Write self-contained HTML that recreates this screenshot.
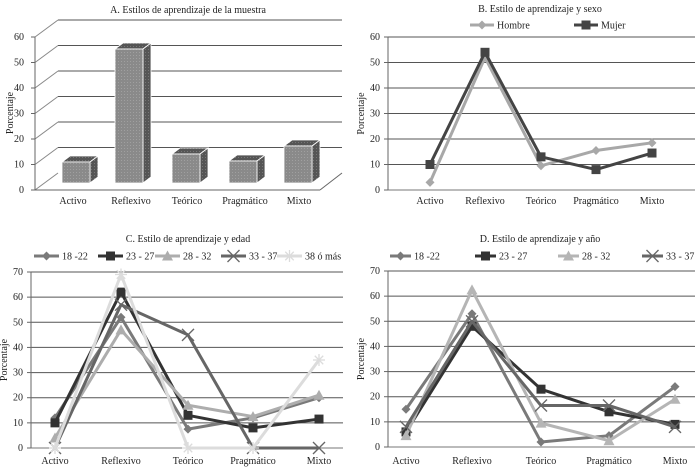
<!DOCTYPE html>
<html><head><meta charset="utf-8"><style>
html,body{margin:0;padding:0;background:#fff}
svg{display:block;font-family:"Liberation Serif",serif;font-size:10px;fill:#222}
</style></head><body>
<svg id="s" width="697" height="467" viewBox="0 0 697 467" xmlns="http://www.w3.org/2000/svg">
<defs>
<pattern id="dots" width="3" height="3" patternUnits="userSpaceOnUse"><rect width="3" height="3" fill="#8a8a8a"/><rect x="1" y="1" width="1" height="1" fill="#a0a0a0"/></pattern>
<pattern id="dots2" width="3" height="3" patternUnits="userSpaceOnUse"><rect width="3" height="3" fill="#555"/><rect x="1" y="1" width="1" height="1" fill="#777"/></pattern>
</defs>
<text x="188" y="13" text-anchor="middle">A. Estilos de aprendizaje de la muestra</text>
<g id="A"></g>
<text x="540" y="12" text-anchor="middle">B. Estilo de aprendizaje y sexo</text>
<g id="B"></g>
<text x="188" y="242" text-anchor="middle">C. Estilo de aprendizaje y edad</text>
<g id="C"></g>
<text x="540" y="242" text-anchor="middle">D. Estilo de aprendizaje y año</text>
<g id="D"></g>
</svg>
<script>
const NS="http://www.w3.org/2000/svg";
function el(p,t,a,txt){const e=document.createElementNS(NS,t);for(const k in a)e.setAttribute(k,a[k]);if(txt!==undefined)e.textContent=txt;p.appendChild(e);return e;}
const cats=["Activo","Reflexivo","Teórico","Pragmático","Mixto"];
(function(){
 const g=document.getElementById("A");
 for(let i=0;i<=6;i++){
  const fy=190-i*25.5, by=fy-17;
  if(i>0) el(g,"line",{x1:58,y1:by,x2:342,y2:by,stroke:"#555","stroke-width":1});
  el(g,"line",{x1:35,y1:fy,x2:58,y2:by,stroke:"#888","stroke-width":1});
  el(g,"line",{x1:31,y1:fy,x2:35,y2:fy,stroke:"#666"});
  el(g,"text",{x:24,y:fy+3,"text-anchor":"end"},String(i*10));
 }
 el(g,"line",{x1:35,y1:37,x2:35,y2:190,stroke:"#666"});
 el(g,"line",{x1:35,y1:190,x2:320,y2:190,stroke:"#666"});
 el(g,"line",{x1:320,y1:190,x2:342,y2:173,stroke:"#666"});
 const bars=[[62,162],[115,49],[172,154],[229,161],[284,146]];
 bars.forEach(([x,top],i)=>{
  const w=28,b=183,dx=8,dy=-6;
  el(g,"polygon",{points:`${x},${top} ${x+dx},${top+dy} ${x+w+dx},${top+dy} ${x+w},${top}`,fill:"url(#dots2)",stroke:"#fff","stroke-width":0.8});
  el(g,"polygon",{points:`${x+w},${top} ${x+w+dx},${top+dy} ${x+w+dx},${b+dy} ${x+w},${b}`,fill:"url(#dots2)",stroke:"#fff","stroke-width":0.8});
  el(g,"rect",{x:x,y:top,width:w,height:b-top,fill:"url(#dots)",stroke:"#fff","stroke-width":0.8});
 });
 const lx=[73,131,187,245,299];
 cats.forEach((c,i)=>el(g,"text",{x:lx[i],y:204,"text-anchor":"middle"},c));
 el(g,"text",{x:13,y:113,"text-anchor":"middle",transform:"rotate(-90 13 113)"},"Porcentaje");
})();
function marker(g,type,x,y,col,s){
 s=s||5;
 if(type=="d") el(g,"polygon",{points:`${x},${y-s} ${x+s},${y} ${x},${y+s} ${x-s},${y}`,fill:col});
 else if(type=="s") el(g,"rect",{x:x-s,y:y-s,width:2*s,height:2*s,fill:col});
 else if(type=="t") el(g,"polygon",{points:`${x},${y-s-1} ${x+s+1},${y+s} ${x-s-1},${y+s}`,fill:col});
 else if(type=="x"){el(g,"line",{x1:x-s,y1:y-s,x2:x+s,y2:y+s,stroke:col,"stroke-width":1.3});el(g,"line",{x1:x-s,y1:y+s,x2:x+s,y2:y-s,stroke:col,"stroke-width":1.3});}
 else if(type=="*"){for(const a of [0,45,90,135]){const r=a*Math.PI/180;el(g,"line",{x1:x-s*Math.cos(r),y1:y-s*Math.sin(r),x2:x+s*Math.cos(r),y2:y+s*Math.sin(r),stroke:col,"stroke-width":1.3});}}
}
function lineChart(id,o){
 const g=document.getElementById(id);
 const {left,right,y0,ytop,max,cx,series,labelY,legendY,legend,ll}=o;
 const per=(y0-ytop)/max;
 for(let v=0;v<=max;v+=10){
  const y=y0-v*per;
  el(g,"line",{x1:left,y1:y,x2:right,y2:y,stroke:v==0?"#777":"#555","stroke-width":1});
  el(g,"line",{x1:left-4,y1:y,x2:left,y2:y,stroke:"#666"});
  el(g,"text",{x:left-8,y:y+3,"text-anchor":"end"},String(v));
 }
 el(g,"line",{x1:left,y1:ytop,x2:left,y2:y0,stroke:"#666"});
 cats.forEach((c,i)=>el(g,"text",{x:cx[i],y:labelY,"text-anchor":"middle"},c));
 el(g,"text",{x:left-24,y:(y0+ytop)/2,"text-anchor":"middle",transform:`rotate(-90 ${left-24} ${(y0+ytop)/2})`},"Porcentaje");
 series.forEach(s=>{
  const pts=s.v.map((v,i)=>`${cx[i]},${y0-v*per}`).join(" ");
  el(g,"polyline",{points:pts,fill:"none",stroke:s.c,"stroke-width":3,"stroke-linejoin":"round"});
  s.v.forEach((v,i)=>marker(g,s.m,cx[i],y0-v*per,s.c,s.m=="x"||s.m=="*"?6:4.5));
 });
 legend.forEach((l,i)=>{
  const s=series[i];
  el(g,"line",{x1:l,y1:legendY,x2:l+ll,y2:legendY,stroke:s.c,"stroke-width":3});
  marker(g,s.m,l+ll/2,legendY,s.c,s.m=="x"||s.m=="*"?6:4.5);
  el(g,"text",{x:l+ll+3,y:legendY+3.5},s.n);
 });
}
lineChart("B",{left:388,right:695,y0:190,ytop:37,max:60,cx:[430,485,541,596,652],labelY:204,legendY:25,ll:24,
 series:[{n:"Hombre",c:"#a8a8a8",m:"d",v:[3,52,9.5,15.5,18.5]},{n:"Mujer",c:"#444",m:"s",v:[10,54,13,8,14.5]}],
 legend:[470,574]});
lineChart("C",{left:31,right:343,y0:448,ytop:272,max:70,cx:[55,121,188,253,319],labelY:464,legendY:256,ll:25,
 series:[
  {n:"18 -22",c:"#7a7a7a",m:"d",v:[12,52,7.5,12,20]},
  {n:"23 - 27",c:"#333",m:"s",v:[10,62,13,8,11.5]},
  {n:"28 - 32",c:"#adadad",m:"t",v:[4,47,17,12.5,21]},
  {n:"33 - 37",c:"#666",m:"x",v:[0,57,45,0,0]},
  {n:"38 ó más",c:"#dcdcdc",m:"*",v:[0,69,0,0,35]}],
 legend:[34,98,155,221,277]});
lineChart("D",{left:388,right:695,y0:447,ytop:271,max:70,cx:[406,472,541,609,675],labelY:464,legendY:256,ll:21,
 series:[
  {n:"18 -22",c:"#7a7a7a",m:"d",v:[15,53,2,4.5,24]},
  {n:"23 - 27",c:"#333",m:"s",v:[6,48,23,14,9]},
  {n:"28 - 32",c:"#b5b5b5",m:"t",v:[4.5,62.5,9.5,2.5,19]},
  {n:"33 - 37",c:"#666",m:"x",v:[8,50,16.5,16.5,8]}],
 legend:[390,475,558,642]});
</script>
</body></html>
